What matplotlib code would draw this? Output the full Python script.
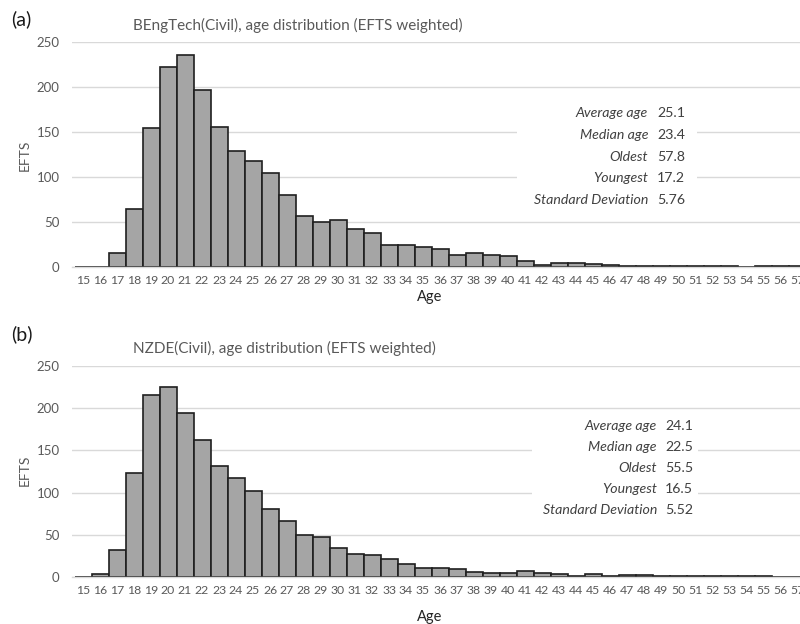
import numpy as np
import matplotlib
matplotlib.use("Agg")
import matplotlib.pyplot as plt
from matplotlib.patches import Rectangle

plt.rcParams['font.family'] = ['Lato', 'DejaVu Sans']

ages = np.arange(15, 58)

# EFTS per age, BEngTech(Civil)
beng_efts = [0, 0, 16, 65, 155, 222, 236, 197, 156, 129, 118, 104, 80, 57, 50, 52,
             42, 38, 24, 24, 22, 20, 13, 16, 13, 12, 7, 2, 4, 5, 3, 2,
             1, 1, 1, 1, 1, 1, 1, 0, 1, 1, 1]
# EFTS per age, NZDE(Civil)
nzde_efts = [0, 3, 32, 123, 216, 225, 194, 162, 132, 117, 102, 80, 66, 50, 47, 34,
             27, 26, 21, 15, 11, 11, 9.5, 5.5, 4.5, 4.5, 7, 4.5, 3, 1, 3, 1,
             2, 2, 1, 1, 1, 1, 1, 1, 1, 0, 0]

stat_names = ["Average age", "Median age", "Oldest", "Youngest", "Standard Deviation"]
beng_stats = ["25.1", "23.4", "57.8", "17.2", "5.76"]
nzde_stats = ["24.1", "22.5", "55.5", "16.5", "5.52"]

titles = ["BEngTech(Civil), age distribution (EFTS weighted)",
          "NZDE(Civil), age distribution (EFTS weighted)"]
panel_tags = ["(a)", "(b)"]

W, H = 800, 624
fig = plt.figure(figsize=(W / 100, H / 100), dpi=100)

GRAY = "#595959"
GRID = "#d9d9d9"


def fx(px):
    return px / W


def fy(py):
    return 1 - py / H


# pixel layout of each panel: top of axes, bottom of axes, stats box
panels = [
    dict(top=42, bottom=267, rows=[113, 135, 157, 178, 200], lab_x=648, val_x=657,
         box=(517, 100, 697, 212), tag_y=19, title_y=25, age_y=297, efts_y=155),
    dict(top=366, bottom=577, rows=[426, 447, 468, 489, 510], lab_x=657, val_x=665,
         box=(532, 414, 698, 522), tag_y=334, title_y=348, age_y=617, efts_y=470),
]

x_lo, x_hi = 14.35, 57.6
left_px = 72
width_px = (x_hi - x_lo) * 17

for i, (efts, stats) in enumerate([(beng_efts, beng_stats), (nzde_efts, nzde_stats)]):
    p = panels[i]
    ax = fig.add_axes([fx(left_px), fy(p["bottom"]), fx(width_px),
                       (p["bottom"] - p["top"]) / H])
    ax.bar(ages, efts, width=1.0, color="#a5a5a5", edgecolor="#1f1f1f",
           linewidth=1.2, zorder=3)
    ax.set_xlim(x_lo, x_hi)
    ax.set_ylim(0, 250)
    ax.set_xticks(ages)
    ax.set_yticks(np.arange(0, 251, 50))
    ax.grid(axis="y", color=GRID, linewidth=1.0, zorder=0)
    for s in ["top", "right", "left"]:
        ax.spines[s].set_visible(False)
    ax.spines["bottom"].set_color(GRID)
    ax.spines["bottom"].set_linewidth(1.0)
    ax.spines["bottom"].set_zorder(4)
    ax.tick_params(axis="x", length=0, pad=6, labelsize=8.8, labelcolor=GRAY)
    ax.tick_params(axis="y", length=0, pad=9, labelsize=9.5, labelcolor=GRAY)

    # white patch behind the statistics block
    bx0, by0, bx1, by1 = p["box"]
    fig.patches.append(Rectangle((fx(bx0), fy(by1)), fx(bx1 - bx0), (by1 - by0) / H,
                                 transform=fig.transFigure, facecolor="white",
                                 edgecolor="none", zorder=5))
    for name, val, ry in zip(stat_names, stats, p["rows"]):
        fig.text(fx(p["lab_x"]), fy(ry), name, ha="right", va="center",
                 fontsize=10.2, style="italic", color="#404040", zorder=6)
        fig.text(fx(p["val_x"]), fy(ry), val, ha="left", va="center",
                 fontsize=10.2, color="#404040", zorder=6)

    fig.text(fx(11), fy(p["tag_y"]), panel_tags[i], ha="left", va="center",
             fontsize=14, color="#1a1a1a")
    fig.text(fx(133), fy(p["title_y"]), titles[i], ha="left", va="center",
             fontsize=11, color=GRAY)
    fig.text(fx(430), fy(p["age_y"]), "Age", ha="center", va="center",
             fontsize=10.5, color="#262626")
    fig.text(fx(25), fy(p["efts_y"]), "EFTS", ha="center", va="center",
             rotation=90, fontsize=10, color=GRAY)

fig.savefig("out.png", dpi=100, facecolor="white")
